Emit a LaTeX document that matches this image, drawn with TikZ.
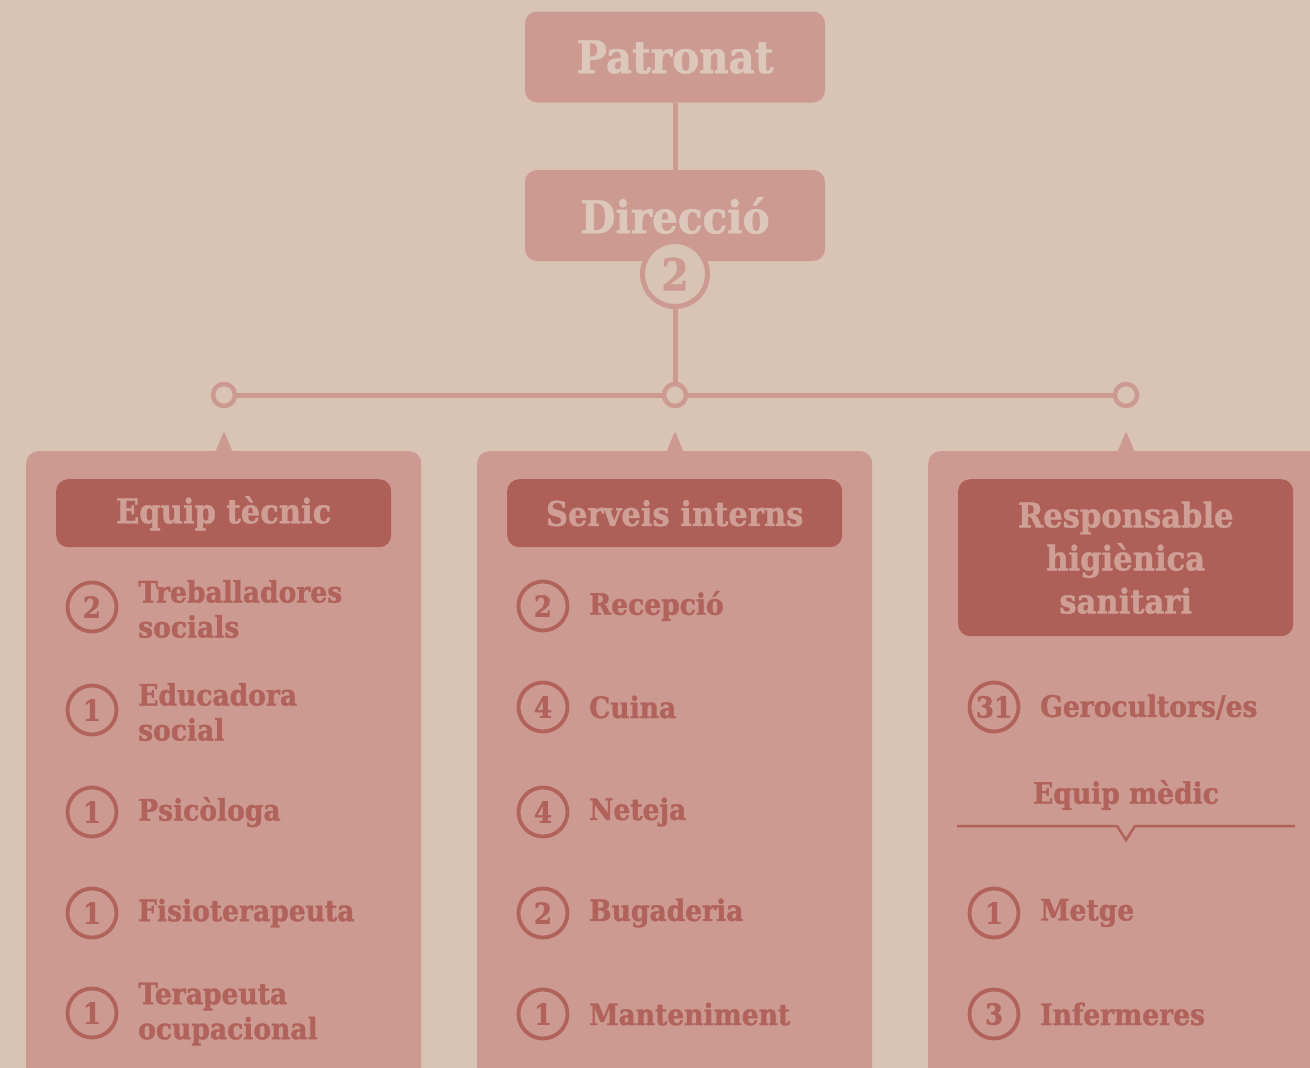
\documentclass[tikz,border=0pt]{standalone}
\usepackage{fontspec}
\setmainfont{DejaVu Serif}[FakeStretch=0.9, BoldFeatures={FakeBold=1.2}]
\definecolor{bg}{HTML}{D9C3B5}
\definecolor{card}{HTML}{CC9A90}
\definecolor{dark}{HTML}{AE5F57}
\definecolor{ink}{HTML}{B0625B}
\definecolor{headtxt}{HTML}{CF9F95}
\definecolor{toptxt}{HTML}{DCC7BA}
\begin{document}
\begin{tikzpicture}[x=1pt,y=-1pt,
  topbox/.style={fill=card, rounded corners=12pt, minimum width=300pt, minimum height=91pt, inner sep=0pt, text=toptxt, font=\bfseries\fontsize{45}{45}\selectfont},
  cardbox/.style={fill=card, rounded corners=12pt, anchor=north west, inner sep=0pt, minimum width=395pt, minimum height=630pt},
  headbox/.style={fill=dark, rounded corners=12pt, anchor=north west, inner sep=0pt, minimum width=335pt, minimum height=68pt, text=headtxt, align=center, font=\bfseries\fontsize{34}{43}\selectfont},
  numc/.style={circle, draw=ink, line width=3.8pt, minimum size=49pt, inner sep=0pt, text=ink, font=\bfseries\fontsize{29}{29}\selectfont},
  lbl/.style={anchor=west, align=left, text=ink, inner sep=0pt, font=\bfseries\fontsize{29.5}{35}\selectfont},
  junc/.style={circle, draw=card, fill=bg, line width=4.5pt, minimum size=22pt, inner sep=0pt},
  link/.style={draw=card, line width=5pt}]
\useasboundingbox (0,0) rectangle (1310,1068);
\fill[bg] (0,0) rectangle (1310,1068);

% top boxes
\node[topbox] (patronat) at (675,57) {Patronat};
\node[topbox] (direccio) at (675,215.5) {Direcció};
\draw[link] (patronat.south) -- (direccio.north);
\node[junc] (j1) at (224,395) {};
\node[junc] (j2) at (675,395) {};
\node[junc] (j3) at (1126,395) {};
\node[circle, draw=card, fill=bg, line width=5pt, minimum size=65pt, inner sep=0pt, text=card, font=\bfseries\fontsize{44}{44}\selectfont] (dcount) at (675,274) {2};
\draw[link] (dcount.south) -- (j2.north);
\draw[link] (j1.east) -- (j2.west);
\draw[link] (j2.east) -- (j3.west);

% cards
\node[cardbox] (card1) at (26,451) {};
\node[cardbox] (card2) at (477,451) {};
\node[cardbox, minimum width=420pt] (card3) at (928,451) {};
\foreach \x in {224,675,1126}{
  \fill[card, rounded corners=2.5pt] (\x-11,458) -- (\x,431) -- (\x+11,458) -- cycle;
}

% headers
\node[headbox] (head1) at (56,479) {Equip tècnic};
\node[headbox] (head2) at (507,479) {Serveis interns};
\node[headbox, minimum height=157pt] (head3) at (958,479) {Responsable\\higiènica\\sanitari};

% column 1
\node[numc] (n11) at (92,607) {2};
\node[lbl] (t11) at (138,609) {Treballadores\\socials};
\node[numc] (n12) at (92,710) {1};
\node[lbl] (t12) at (138,712) {Educadora\\social};
\node[numc] (n13) at (92,812) {1};
\node[lbl] (t13) at (138,812) {Psicòloga};
\node[numc] (n14) at (92,913) {1};
\node[lbl] (t14) at (138,913) {Fisioterapeuta};
\node[numc] (n15) at (92,1013) {1};
\node[lbl] (t15) at (138,1014) {Terapeuta\\ocupacional};

% column 2
\node[numc] (n21) at (543,606) {2};
\node[lbl] (t21) at (589,606) {Recepció};
\node[numc] (n22) at (543,707) {4};
\node[lbl] (t22) at (589,707) {Cuina};
\node[numc] (n23) at (543,812) {4};
\node[lbl] (t23) at (589,812) {Neteja};
\node[numc] (n24) at (543,913) {2};
\node[lbl] (t24) at (589,913) {Bugaderia};
\node[numc] (n25) at (543,1014) {1};
\node[lbl] (t25) at (589,1014) {Manteniment};

% column 3
\node[numc] (n31) at (994,707) {31};
\node[lbl] (t31) at (1040,707) {Gerocultors/es};
\node[text=ink, inner sep=0pt, font=\bfseries\fontsize{29.5}{29.5}\selectfont] (medic) at (1126,795) {Equip mèdic};
\draw[ink, line width=2.5pt] (957,826) -- (1117,826) -- (1126,840) -- (1135,826) -- (1295,826);
\node[numc] (n32) at (994,913) {1};
\node[lbl] (t32) at (1040,913) {Metge};
\node[numc] (n33) at (994,1014) {3};
\node[lbl] (t33) at (1040,1014) {Infermeres};
\end{tikzpicture}
\end{document}
